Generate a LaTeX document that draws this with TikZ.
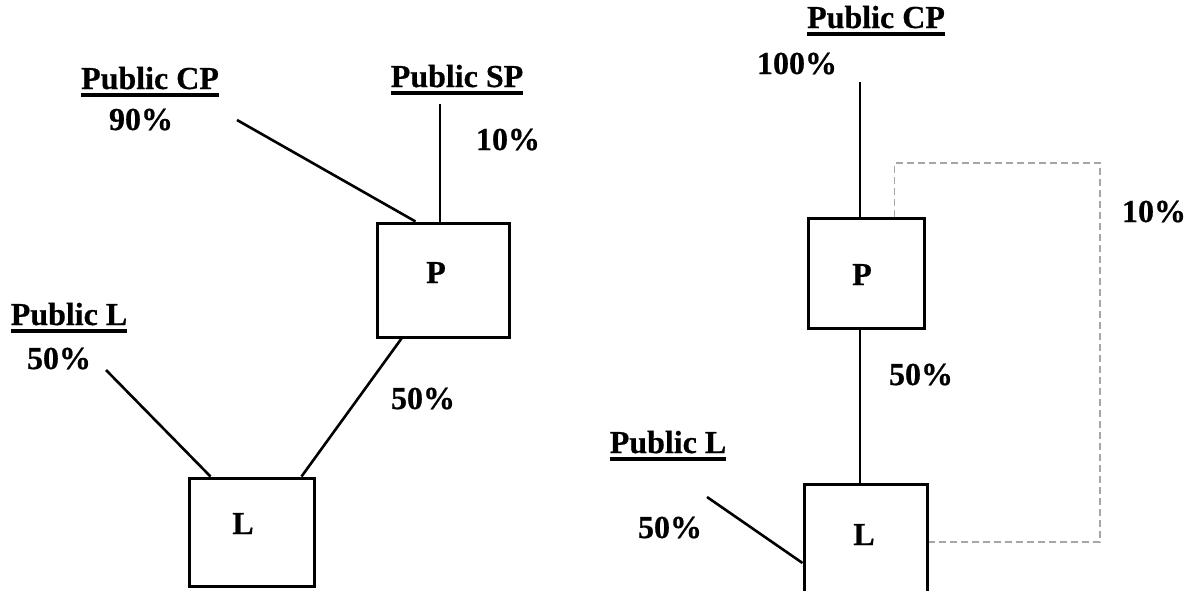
\documentclass[tikz,border=0pt]{standalone}
\usepackage{fontspec}
\setmainfont{Liberation Serif}[BoldFeatures={FakeBold=0.6}]
% underlined caption with a heavy rule
\newcommand\ulcap[1]{\setbox0\hbox{#1}\rlap{\rule[-7.5pt]{\wd0}{3.2pt}}\box0}
\begin{document}
\begin{tikzpicture}[x=1pt,y=-1pt,
  font=\fontsize{32}{38}\selectfont\bfseries,
  txt/.style={anchor=base,inner sep=0pt},
  entity/.style={draw,line width=3pt,inner sep=0pt},
  link/.style={line width=2.6pt},
  feedback/.style={draw=black!35,line width=1.4pt,dash pattern=on 7pt off 4pt}]
\path[use as bounding box,clip] (0,0) rectangle (1194,590);

% ---- left structure ----
\node[entity,minimum width=132pt,minimum height=114pt] (P1) at (443,280) {};
\node[entity,minimum width=125pt,minimum height=108pt] (L1) at (251.5,532) {};
\node[txt] (P1t) at (436,283) {P};
\node[txt] (L1t) at (243,534) {L};

\node[txt] (cpL) at (150,89) {\ulcap{Public CP}};
\node[txt] (cpLv) at (141,130) {90\%};
\node[txt] (spL) at (457,87) {\ulcap{Public SP}};
\node[txt] (spLv) at (508,150) {10\%};
\node[txt] (plL) at (69,325) {\ulcap{Public L}};
\node[txt] (plLv) at (59,369) {50\%};
\node[txt] (plpv) at (423,409) {50\%};

\coordinate (cp1) at (237,120);
\coordinate (sp1) at (440,104);
\coordinate (pl1) at (106,370);
\draw[link] (cp1) -- ([xshift=40pt]P1.north west);
\draw[link] (sp1) -- (sp1 |- P1.north);
\draw[link] ([xshift=26pt]P1.south west) -- ([xshift=114pt]L1.north west);
\draw[link] (pl1) -- ([xshift=23pt]L1.north west);

% ---- right structure ----
\node[entity,minimum width=116pt,minimum height=110pt] (P2) at (866,273) {};
\node[entity,minimum width=123pt,minimum height=112pt] (L2) at (865.5,540) {};
\node[txt] (P2t) at (862,285) {P};
\node[txt] (L2t) at (864,545) {L};

\node[txt] (cpR) at (876,28) {\ulcap{Public CP}};
\node[txt] (cpRv) at (797,74) {100\%};
\node[txt] (fbv) at (1154,222) {10\%};
\node[txt] (plpR) at (921,385) {50\%};
\node[txt] (plR) at (668,453) {\ulcap{Public L}};
\node[txt] (plRv) at (670,538) {50\%};

\coordinate (cp2) at (860,82);
\coordinate (pl2) at (707,497);
\coordinate (fbc) at (1100,163);
\draw[link] (cp2) -- (cp2 |- P2.north);
\draw[link] (P2.south -| cp2) -- (L2.north -| cp2);
\draw[link] (pl2) -- ([yshift=-23pt]L2.west);
\draw[feedback] ([xshift=88pt]P2.north west) |- (fbc) |- ([yshift=-2pt]L2.east);
\end{tikzpicture}
\end{document}
